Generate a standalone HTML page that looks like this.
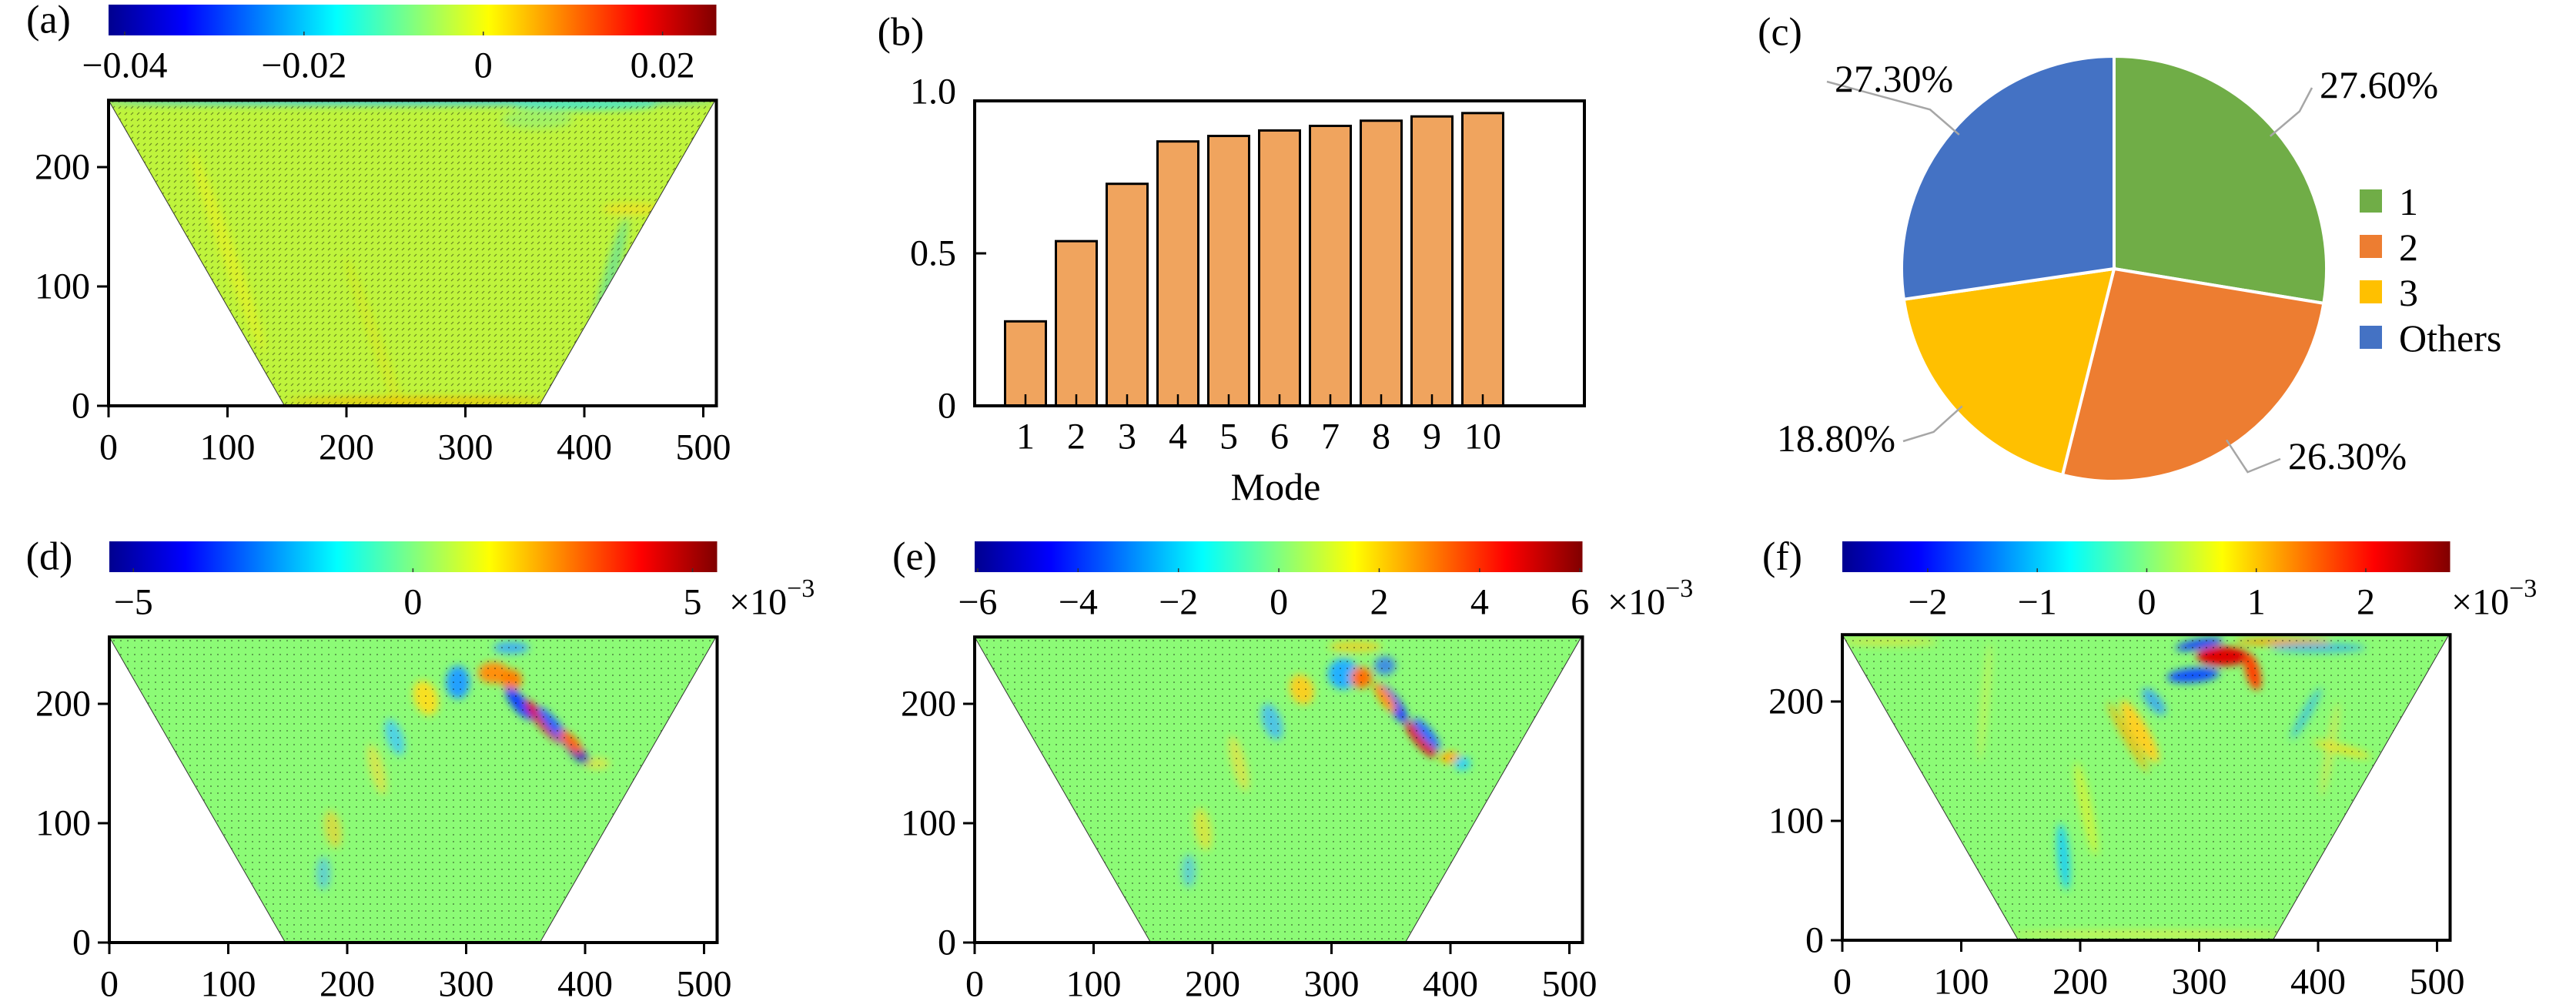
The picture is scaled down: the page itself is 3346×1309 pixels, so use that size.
<!DOCTYPE html>
<html><head><meta charset="utf-8"><style>
html,body{margin:0;padding:0;background:#fff;}
svg{display:block;}
text{font-family:"Liberation Serif",serif;fill:#000;}
</style></head><body>
<svg id="fig" width="3346" height="1309" viewBox="0 0 3346 1309" xmlns="http://www.w3.org/2000/svg">
<defs>
<linearGradient id="jet" x1="0" x2="1" y1="0" y2="0">
<stop offset="0" stop-color="#00008f"/><stop offset="0.125" stop-color="#0000ff"/>
<stop offset="0.375" stop-color="#00ffff"/><stop offset="0.5" stop-color="#80ff80"/>
<stop offset="0.625" stop-color="#ffff00"/><stop offset="0.875" stop-color="#ff0000"/>
<stop offset="1" stop-color="#800000"/></linearGradient>
<pattern id="quiv" width="8" height="8" patternUnits="userSpaceOnUse"><line x1="2" y1="5" x2="5" y2="2" stroke="#000" stroke-width="1.2" opacity="0.45"/></pattern>
<pattern id="quiv2" width="9" height="9" patternUnits="userSpaceOnUse"><rect x="3" y="3" width="2" height="2" fill="#000" opacity="0.35"/></pattern>
<filter id="blur" x="-50%" y="-50%" width="200%" height="200%"><feGaussianBlur stdDeviation="5"/></filter>
</defs>
<g id="root"></g>
</svg>
<script>
const NS="http://www.w3.org/2000/svg";
const root=document.getElementById('root');
function mk(tag,attrs,parent){const e=document.createElementNS(NS,tag);for(const k in attrs)e.setAttribute(k,attrs[k]);(parent||root).appendChild(e);return e;}
function txt(x,y,s,size,anchor,parent){const t=mk('text',{x:x,y:y,'font-size':size,'text-anchor':anchor||'middle','dominant-baseline':'central'},parent);t.textContent=s;return t;}

// ---------- data ----------
const modeCategories=[1,2,3,4,5,6,7,8,9,10];
const modeCumulative=[0.277,0.540,0.728,0.867,0.885,0.903,0.918,0.935,0.949,0.960];
const barYTicks=[0,0.5,1.0];
const barYTickLabels=["0","0.5","1.0"];
const pieLabels=["1","2","3","Others"];
const pieValues=[27.6,26.3,18.8,27.3];
const pieColors=["#70ad47","#ed7d31","#ffc000","#4472c4"];
const fieldXTicks=[0,100,200,300,400,500];
const fieldYTicks=[0,100,200];
const cbTicksA=[-0.04,-0.02,0,0.02];
const cbLabelsA=["\u22120.04","\u22120.02","0","0.02"];
const cbTicksD=[-5,0,5];
const cbLabelsD=["\u22125","0","5"];
const cbTicksE=[-6,-4,-2,0,2,4,6];
const cbLabelsE=["\u22126","\u22124","\u22122","0","2","4","6"];
const cbTicksF=[-2,-1,0,1,2];
const cbLabelsF=["\u22122","\u22121","0","1","2"];

// ---------- field panels ----------
function fieldPanel(id,px0,py0,bg,cb,feats,quiv){
  const g=mk('g',{});
  
  
  const sx=v=>px0+v*1.545, sy=v=>py0-v*1.55;
  const x1=sx(0),x2=sx(511),yT=sy(256),yB=py0;
  const lab=txt(px0-78,cb.y+20,'('+id+')',52,'middle',g);
  
  
  const cbr=mk('rect',{x:x1,y:cb.y,width:x2-x1,height:40,fill:'url(#jet)'},g);
  
  
  const cx=v=>x1+(v-cb.min)/(cb.max-cb.min)*(x2-x1);
  cb.ticks.forEach((v,i)=>{
    mk('line',{x1:cx(v),x2:cx(v),y1:cb.y+40,y2:cb.y+35,stroke:'#333','stroke-width':1.5},g);
    const t=txt(cx(v),cb.y+79,cb.labels[i],48,'middle',g);
    
    
  });
  if(cb.exp){const t=mk('text',{x:cb.expX,y:cb.y+79,'font-size':48,'dominant-baseline':'central'},g);
    t.innerHTML='\u00d710<tspan dy="-18" font-size="34">\u22123</tspan>';
    
    }
  const pts=`${sx(0)},${sy(256)} ${sx(510)},${sy(256)} ${sx(362)},${sy(0)} ${sx(148)},${sy(0)}`;
  const cp=mk('clipPath',{id:'clip'+id},g);mk('polygon',{points:pts},cp);
  const fg=mk('g',{'clip-path':'url(#clip'+id+')'},g);
  const tr=mk('polygon',{points:pts,fill:bg},fg);
  
  
  const bl=mk('g',{filter:'url(#blur)'},fg);
  feats.forEach(f=>{mk('ellipse',{cx:sx(f[0]),cy:sy(f[1]),rx:f[2]*1.55,ry:f[3]*1.55,transform:`rotate(${f[4]} ${sx(f[0])} ${sy(f[1])})`,fill:f[5],opacity:f[6]||1},bl);});
  mk('polygon',{points:pts,fill:quiv},fg);
  mk('polygon',{points:pts,fill:'none',stroke:'#333','stroke-width':1},g);
  const fr=mk('rect',{x:x1,y:yT,width:x2-x1,height:yB-yT,fill:'none',stroke:'#000','stroke-width':4},g);
  
  
  fieldXTicks.forEach(v=>{mk('line',{x1:sx(v),x2:sx(v),y1:yB,y2:yB+15,stroke:'#000','stroke-width':3},g);
    const t=txt(sx(v),yB+54,String(v),48,'middle',g);
    
    });
  fieldYTicks.forEach(v=>{mk('line',{x1:x1-15,x2:x1,y1:sy(v),y2:sy(v),stroke:'#000','stroke-width':3},g);
    const t=txt(x1-24,sy(v),String(v),48,'end',g);
    
    });
}
fieldPanel('a',141,527,'#bff43c',{y:6,min:-0.0418,max:0.026,ticks:cbTicksA,labels:cbLabelsA},
 [[250,255,260,3,0,'#30c8f0'],[400,252,60,4,0,'#50e8c0'],[100,130,6,90,-20,'#f0f020',0.6],[230,40,4,90,-20,'#e8e010',0.5],
  [420,100,6,60,15,'#60e0a0',0.7],[440,165,25,5,0,'#f0e020',0.8],[360,240,30,8,0,'#90f080',0.6],[260,4,110,3,0,'#f0c000']],'url(#quiv)');
fieldPanel('d',142,1224,'#8cfb76',{y:703,min:-5.43,max:5.44,ticks:cbTicksD,labels:cbLabelsD,exp:true,expX:947},
 [[293,218,10,14,0,'#20a0ff'],[323,226,13,9,0,'#ff9010'],[338,220,9,9,0,'#ff8000'],[266,205,10,15,-20,'#f8e020'],
  [345,200,6,17,-40,'#1040ff'],[365,185,5,23,-40,'#e00000'],[375,180,5,23,-40,'#2060ff'],[393,160,5,15,-45,'#0020c0'],
  [388,168,5,13,-45,'#ff6000'],[240,172,7,16,-20,'#40c8ff',0.8],[225,145,6,22,-15,'#f0e040',0.7],[188,95,7,16,-10,'#f0d030',0.7],
  [180,58,6,14,0,'#50c0f0',0.7],[338,247,15,5,0,'#40b0f0'],[410,150,11,5,0,'#f0e040',0.7]],'url(#quiv2)');
fieldPanel('e',1266,1224,'#8cfb76',{y:703,min:-6.06,max:6.05,ticks:cbTicksE,labels:cbLabelsE,exp:true,expX:2088},
 [[310,225,13,13,0,'#20b0ff'],[345,232,9,8,0,'#4090e0'],[325,222,9,9,0,'#ff7000'],[275,212,10,13,-20,'#f8d020'],
  [352,200,6,19,-35,'#1040ff'],[345,205,5,15,-35,'#ff9000'],[375,170,5,19,-40,'#e00000'],[380,175,5,17,-40,'#2070ff'],
  [400,155,9,5,0,'#ffb000'],[410,150,7,6,0,'#30d0f0'],[250,185,8,16,-20,'#40b8ff',0.8],[222,150,6,24,-15,'#f0e040',0.7],
  [192,95,7,18,-10,'#f0e030',0.7],[180,60,6,14,0,'#50c0f0',0.7],[320,248,22,5,0,'#f0d020',0.8]],'url(#quiv2)');
fieldPanel('f',2393,1221,'#8cfb76',{y:703,min:-2.78,max:2.77,ticks:cbTicksF,labels:cbLabelsF,exp:true,expX:3184},
 [[320,238,22,8,0,'#e00000'],[300,248,20,4,-10,'#1040ff'],[295,222,22,6,-5,'#1050ff'],[345,225,6,16,-15,'#ff4000'],
  [370,250,40,3,0,'#ffa000'],[400,245,40,4,0,'#30b0f0',0.8],[250,175,7,30,-30,'#ffd020'],[240,170,4,34,-30,'#ffb000',0.7],
  [262,200,6,14,-40,'#30a0ff',0.8],[205,110,5,40,-12,'#f0f020',0.6],[186,70,5,28,-5,'#20d0f0'],
  [420,160,25,4,15,'#f0e020',0.8],[410,160,4,40,10,'#f0e040',0.5],[390,190,4,25,30,'#30b8f0',0.7],[120,200,3,50,5,'#f0f040',0.5],
  [40,250,40,3,0,'#f0e030',0.7],[260,5,120,3,0,'#f0f040',0.7]],'url(#quiv2)');

// ---------- bar chart (b) ----------
(function(){
  const g=mk('g',{});
  
  
  const L=1266,R=2058,T=131,B=527;
  const xs=c=>L+c*(R-L)/12, ys=v=>B-v*(B-T);
  const lab=txt(1170,42,'(b)',52,'middle',g);
  
  
  modeCategories.forEach((c,i)=>{
    const w=53;
    const r=mk('rect',{x:xs(c)-w/2,y:ys(modeCumulative[i]),width:w,height:B-ys(modeCumulative[i]),fill:'#f0a45e',stroke:'#000','stroke-width':3},g);
    
    
    mk('line',{x1:xs(c),x2:xs(c),y1:B,y2:B-15,stroke:'#000','stroke-width':2.5},g);
    const t=txt(xs(c),567,String(c),48,'middle',g);
    
    
  });
  const fr=mk('rect',{x:L,y:T,width:R-L,height:B-T,fill:'none',stroke:'#000','stroke-width':4},g);
  
  
  barYTicks.forEach((v,i)=>{mk('line',{x1:L,x2:L+15,y1:ys(v),y2:ys(v),stroke:'#000','stroke-width':3},g);
    const t=txt(L-24,ys(v)-(v===1?12:0),barYTickLabels[i],48,'end',g);
    
    });
  const xt=txt((L+R)/2-5,632,'Mode',50,'middle',g);
  
  
})();

// ---------- pie chart (c) ----------
(function(){
  const g=mk('g',{});
  
  
  const lab=txt(2312,42,'(c)',52,'middle',g);
  
  
  const cx=2746,cy=349,r=276;
  const tot=pieValues.reduce((a,b)=>a+b,0);
  let a0=0;
  const pt=(a,rr)=>[cx+rr*Math.sin(a),cy-rr*Math.cos(a)];
  const labelPos=[[3013,110,'start'],[2972,592,'start'],[2462,569,'end'],[2383,102,'start']];
  pieValues.forEach((v,i)=>{
    const a1=a0+v/tot*2*Math.PI;
    const p0=pt(a0,r),p1=pt(a1,r);
    const large=(a1-a0)>Math.PI?1:0;
    const s=mk('path',{d:`M${cx},${cy} L${p0[0]},${p0[1]} A${r},${r} 0 ${large} 1 ${p1[0]},${p1[1]} Z`,fill:pieColors[i],stroke:'#fff','stroke-width':4},g);
    
    
    const am=(a0+a1)/2, pe=pt(am,r-10), po=pt(am,r+40);
    const lp=labelPos[i];
    const endX=lp[2]==='start'?lp[0]-10:lp[0]+10;
    mk('polyline',{points:`${pe[0]},${pe[1]} ${po[0]},${po[1]} ${endX},${lp[1]+4}`,fill:'none',stroke:'#a6a6a6','stroke-width':2.5},g);
    const t=txt(lp[0],lp[1],v.toFixed(2)+'%',50,lp[2],g);
    
    
    a0=a1;
  });
  pieLabels.forEach((l,i)=>{
    const y=246+i*59;
    const sq=mk('rect',{x:3065,y:y,width:29,height:30,fill:pieColors[i]},g);
    
    
    const t=txt(3116,y+16,l,50,'start',g);
    
    
  });
})();
</script>
</body></html>
